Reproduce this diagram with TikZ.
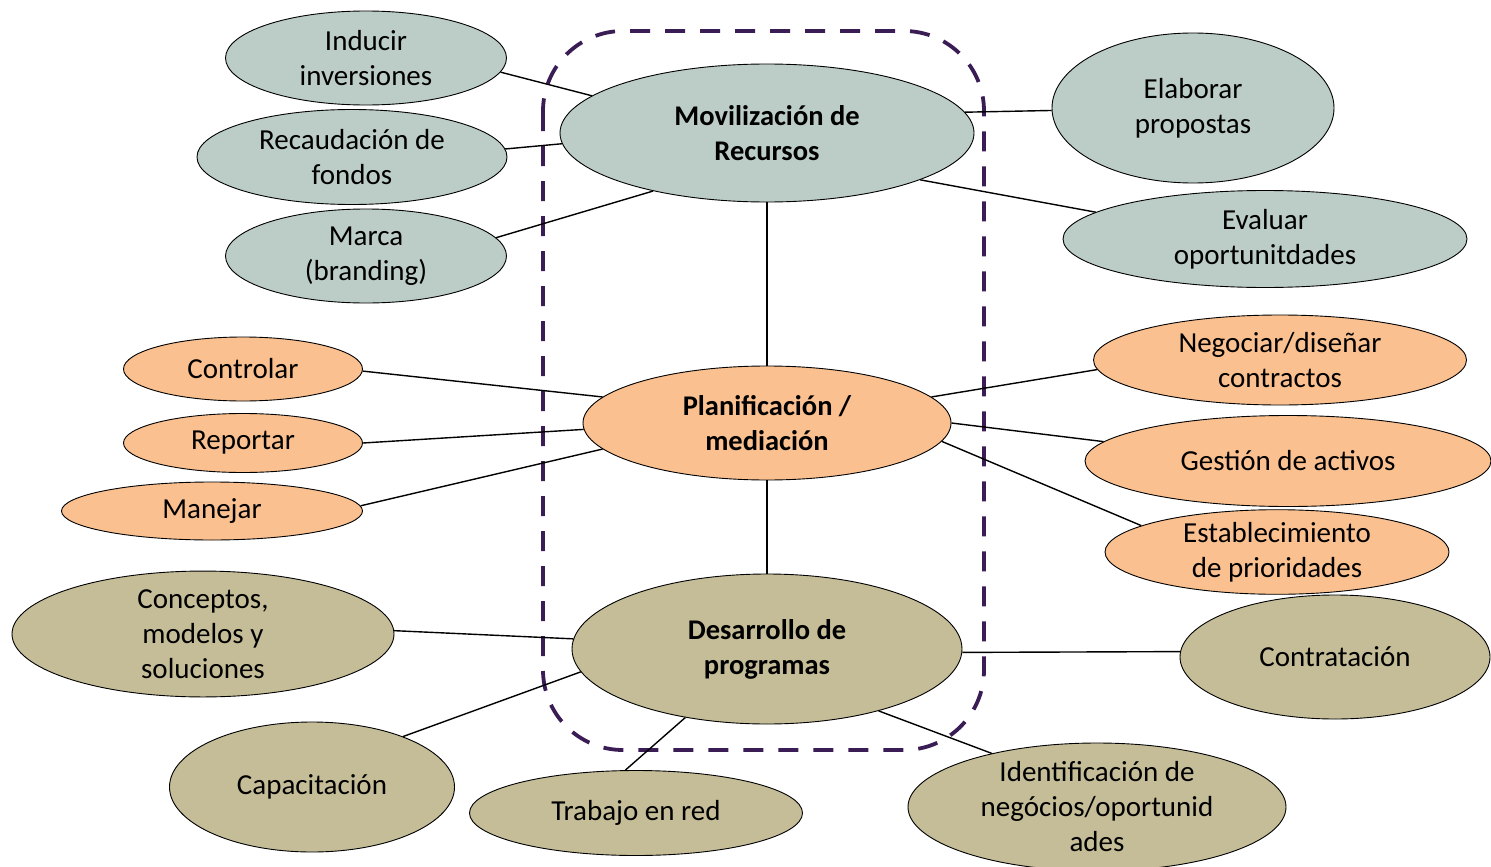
\documentclass[tikz,border=0pt]{standalone}
\usepackage{fontspec}
\setmainfont{Carlito}
\usetikzlibrary{shapes.geometric}
\definecolor{cgray}{HTML}{BCCCC7}
\definecolor{corange}{HTML}{FAC090}
\definecolor{colive}{HTML}{C4BD97}
\definecolor{cpurple}{HTML}{3B1D55}
\tikzset{
  bub/.style={ellipse, draw=black, line width=0.9pt, inner sep=0pt, align=center,
    font=\fontsize{29}{35}\selectfont},
  hub/.style={bub, font=\fontsize{28.5}{35}\selectfont\bfseries},
  gr/.style={fill=cgray}, orr/.style={fill=corange}, ol/.style={fill=colive},
  link/.style={line width=1.4pt, black},
  frame/.style={draw=cpurple, line width=3.8pt, dash pattern=on 20pt off 15pt, rounded corners=80pt}
}
\begin{document}
\begin{tikzpicture}[x=1pt,y=-1pt]
\useasboundingbox (0,0) rectangle (1491,867);
% frame
\path[frame] (543,31) rectangle (984,750);
% hubs
\node[hub,gr,minimum width=414pt,minimum height=138pt] (mov) at (767,133) {Movilización de\\Recursos};
\node[hub,orr,minimum width=368pt,minimum height=114pt] (plan) at (767,423) {Planificación /\\mediación};
\node[hub,ol,minimum width=390pt,minimum height=150pt] (des) at (767,649) {Desarrollo de\\programas};
% gray
\node[bub,gr,minimum width=281pt,minimum height=94pt] (ind) at (366,58) {Inducir\\inversiones};
\node[bub,gr,minimum width=310pt,minimum height=95pt] (rec) at (352,157) {Recaudación de\\fondos};
\node[bub,gr,minimum width=281pt,minimum height=94pt] (mar) at (366,256) {Marca\\(branding)};
\node[bub,gr,minimum width=282pt,minimum height=150pt] (ela) at (1193,108) {Elaborar\\propostas};
\node[bub,gr,minimum width=404pt,minimum height=97pt] (eva) at (1265,239) {Evaluar\\oportunitdades};
% orange
\node[bub,orr,minimum width=239pt,minimum height=64pt] (con) at (243,369) {Controlar};
\node[bub,orr,minimum width=239pt,minimum height=59pt] (rep) at (243,443) {Reportar};
\node[bub,orr,minimum width=301pt,minimum height=58pt] (man) at (212,511) {Manejar};
\node[bub,orr,minimum width=373pt,minimum height=90pt] (neg) at (1280,360) {Negociar/diseñar\\contractos};
\node[bub,orr,minimum width=406pt,minimum height=91pt] (ges) at (1288,461) {Gestión de activos};
\node[bub,orr,minimum width=344pt,minimum height=67pt] (est) at (1277,552) {Establecimiento\\de prioridades};
% olive
\node[bub,ol,minimum width=382pt,minimum height=124pt] (cpt) at (203,634) {Conceptos,\\modelos y\\soluciones};
\node[bub,ol,minimum width=310pt,minimum height=124pt] (ctr) at (1335,657) {Contratación};
\node[bub,ol,minimum width=285pt,minimum height=130pt] (cap) at (312,787) {Capacitación};
\node[bub,ol,minimum width=333pt,minimum height=85pt] (tra) at (636,813) {Trabajo en red};
\node[bub,ol,minimum width=378pt,minimum height=128pt] (ide) at (1097,807) {Identificación de\\negócios/oportunid\\ades};
% links
\draw[link] (ind.-6.4) -- (mov.168.4);
\draw[link] (rec.3.7) -- (mov.183.6);
\draw[link] (mar.8.8) -- (mov.207.4);
\draw[link] (mov.6) -- (ela.181.6);
\draw[link] (mov.-17.7) -- (eva.171.5);
\draw[link] (mov.south) -- (plan.north);
\draw[link] (con.-1.4) -- (plan.171.3);
\draw[link] (rep.0.5) -- (plan.182.2);
\draw[link] (man.2.7) -- (plan.189.3);
\draw[link] (plan.9.1) -- (neg.183.1);
\draw[link] (plan.0) -- (ges.174.2);
\draw[link] (plan.-6.5) -- (est.169.7);
\draw[link] (plan.south) -- (des.north);
\draw[link] (cpt.1.5) -- (des.177);
\draw[link] (cap.29.5) -- (des.187.7);
\draw[link] (tra.104.7) -- (des.220.4);
\draw[link] (des.-29.6) -- (ide.153.6);
\draw[link] (des.-1.8) -- (ctr.178.2);
\end{tikzpicture}
\end{document}
